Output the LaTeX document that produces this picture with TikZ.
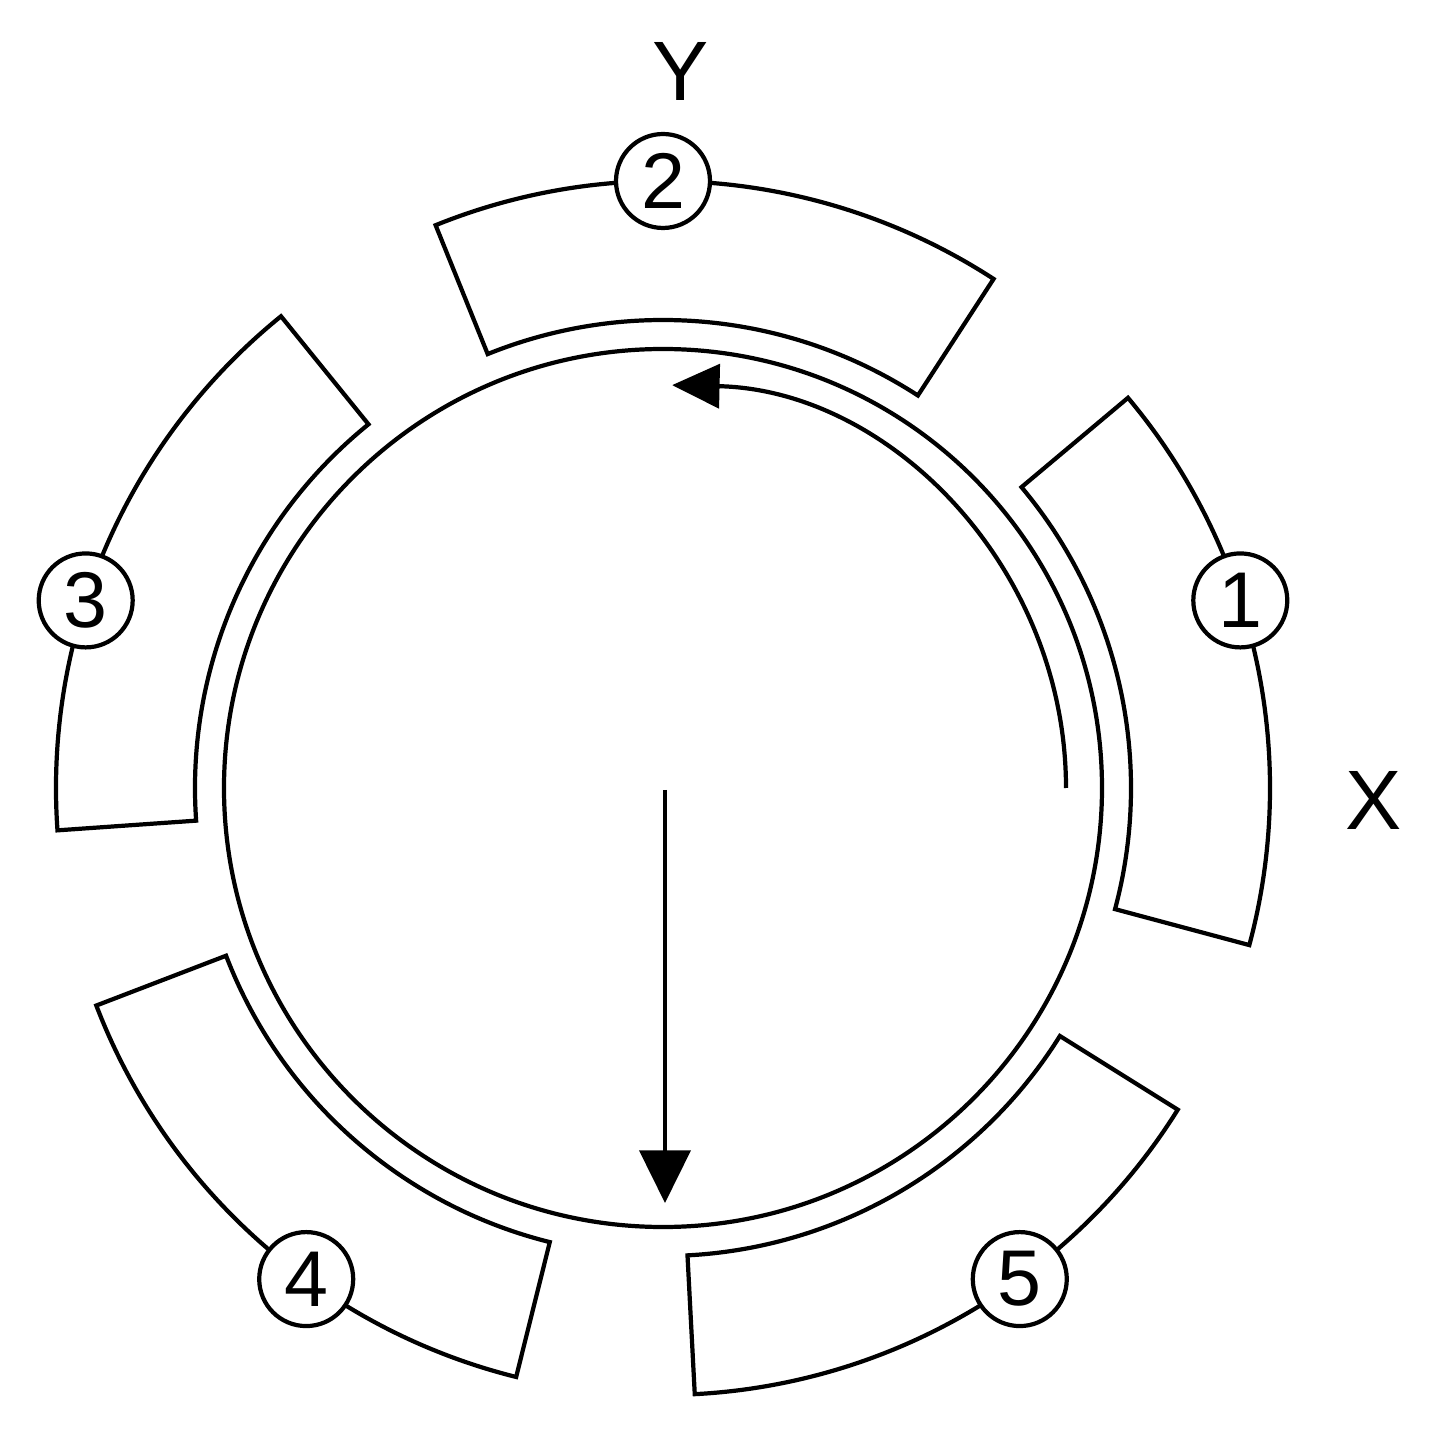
\documentclass[tikz,border=0pt]{standalone}
\usepackage{fontspec}
\setmainfont{Liberation Sans}
\usetikzlibrary{arrows.meta}
\begin{document}
\begin{tikzpicture}[x=0.02cm,y=0.02cm,line width=2.4pt,
  blockline/.style={line width=2.4pt, line join=miter},
  numlabel/.style={circle, draw, fill=white, line width=2.4pt, minimum size=1.88cm, inner sep=0pt, font=\fontsize{45}{48}\selectfont},
  axislabel/.style={font=\fontsize{48}{52}\selectfont, inner sep=0pt}]
\useasboundingbox (-663,-645) rectangle (767,788);
% rotor circle
\draw (0,0) circle[radius=439];
% stator blocks
\foreach \k in {0,...,4} {
  \pgfmathsetmacro\a{-15+72*\k}
  \pgfmathsetmacro\b{\a+55}
  \draw[blockline] (\a:468) arc[start angle=\a, end angle=\b, radius=468] -- (\b:607) arc[start angle=\b, end angle=\a, radius=607] -- cycle;
}
% numbered labels
\node[numlabel] (n1) at (18:607) {1};
\node[numlabel] (n2) at (90:607) {2};
\node[numlabel] (n3) at (162:607) {3};
\node[numlabel] (n4) at (234:607) {4};
\node[numlabel] (n5) at (306:607) {5};
% curved rotation arrow
\coordinate (rs) at (0:403);
\draw[-{Triangle[length=27pt,width=25pt]}] (rs) arc[start angle=0, end angle=88.7, radius=403];
% vertical arrow
\coordinate (vs) at (2,-2);
\coordinate (ve) at (2,-415);
\draw[-{Triangle[length=30pt,width=29pt]}] (vs) -- (ve);
% axis labels
\node[axislabel] (Y) at (18,716) {Y};
\node[axislabel] (X) at (711,-12) {X};
\end{tikzpicture}
\end{document}
